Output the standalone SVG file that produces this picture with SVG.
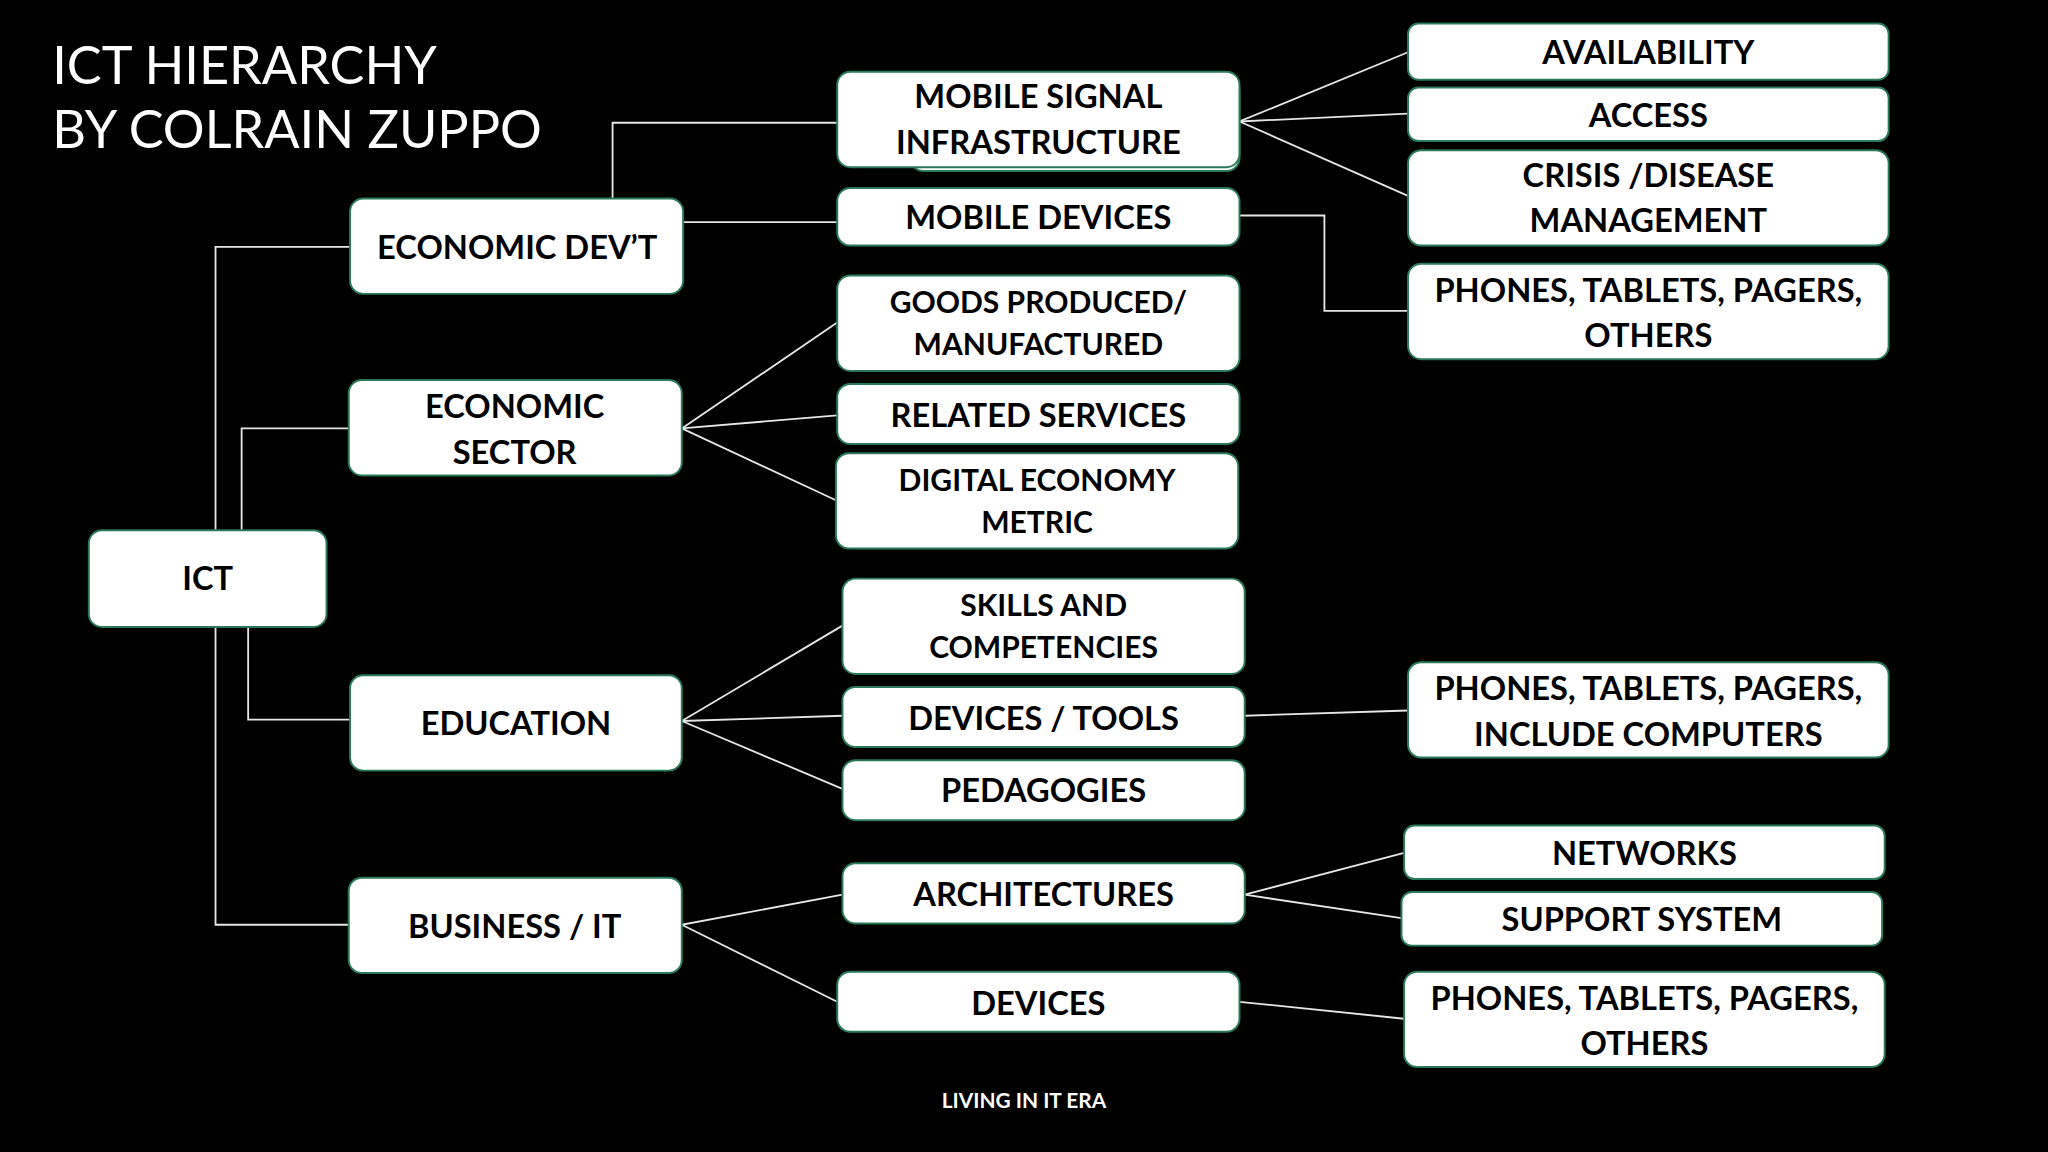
<svg xmlns="http://www.w3.org/2000/svg" width="2048" height="1152" viewBox="0 0 2048 1152">
<style>
.b{fill:#fff;stroke:#2a7a5a;stroke-width:1.5}
.t{font-family:Lato,"Open Sans",sans-serif;font-weight:bold;font-size:25px;fill:#000;text-anchor:middle}
.s{font-size:23px}
.c{stroke:#e6e6e6;stroke-width:1.4;fill:none}
</style>
<rect width="2048" height="1152" fill="#000"/>
<g transform="scale(1.30612)">
<text x="40" y="64" font-family="Lato,'Open Sans',sans-serif" font-size="40" fill="#fff">ICT HIERARCHY</text>
<text x="40" y="113" font-family="Lato,'Open Sans',sans-serif" font-size="40" fill="#fff">BY COLRAIN ZUPPO</text>
<g id="connectors">
<polyline class="c" points="268,189 165,189 165,708 267,708"/>
<polyline class="c" points="267,328 185,328 185,406"/>
<polyline class="c" points="190,480 190,551 268,551"/>
<polyline class="c" points="469,152 469,94 641,94"/>
<line class="c" x1="523" y1="170" x2="641" y2="170"/>
<line class="c" x1="949" y1="93" x2="1078" y2="40"/>
<line class="c" x1="949" y1="93" x2="1078" y2="87"/>
<line class="c" x1="949" y1="93" x2="1078" y2="150"/>
<polyline class="c" points="949,165 1014,165 1014,238 1078,238"/>
<line class="c" x1="522" y1="328" x2="641" y2="247"/>
<line class="c" x1="522" y1="328" x2="641" y2="318"/>
<line class="c" x1="522" y1="328" x2="640" y2="383"/>
<line class="c" x1="522" y1="552" x2="645" y2="479"/>
<line class="c" x1="522" y1="552" x2="645" y2="548"/>
<line class="c" x1="522" y1="552" x2="645" y2="604"/>
<line class="c" x1="953" y1="548" x2="1078" y2="544"/>
<line class="c" x1="522" y1="708" x2="645" y2="685"/>
<line class="c" x1="522" y1="708" x2="641" y2="767"/>
<line class="c" x1="953" y1="685" x2="1075" y2="653"/>
<line class="c" x1="953" y1="685" x2="1073" y2="703"/>
<line class="c" x1="949" y1="767" x2="1075" y2="780"/>
</g>
<g id="ict"><rect class="b" x="68" y="406" width="182" height="74" rx="10"/><text class="t" x="159" y="452">ICT</text></g>
<g id="econdev"><rect class="b" x="268" y="152" width="255" height="73" rx="10"/><text class="t" x="396" y="198">ECONOMIC DEV’T</text></g>
<g id="econsector"><rect class="b" x="267" y="291" width="255" height="73" rx="10"/><text class="t" x="394" y="320">ECONOMIC</text><text class="t" x="394" y="355">SECTOR</text></g>
<g id="education"><rect class="b" x="268" y="517" width="254" height="73" rx="10"/><text class="t" x="395" y="563">EDUCATION</text></g>
<g id="business"><rect class="b" x="267" y="672" width="255" height="73" rx="10"/><text class="t" x="394" y="718">BUSINESS / IT</text></g>
<g id="mobilesignal"><rect class="b" x="697" y="60" width="252" height="71" rx="10"/><rect class="b" x="641" y="55" width="308" height="73" rx="10"/><text class="t" x="795" y="83">MOBILE SIGNAL</text><text class="t" x="795" y="118">INFRASTRUCTURE</text></g>
<g id="mobiledevices"><rect class="b" x="641" y="144" width="308" height="44" rx="10"/><text class="t" x="795" y="175">MOBILE DEVICES</text></g>
<g id="goods"><rect class="b" x="641" y="211" width="308" height="73" rx="10"/><text class="t s" x="795" y="240">GOODS PRODUCED/</text><text class="t s" x="795" y="272">MANUFACTURED</text></g>
<g id="related"><rect class="b" x="641" y="294" width="308" height="46" rx="10"/><text class="t" x="795" y="327">RELATED SERVICES</text></g>
<g id="digital"><rect class="b" x="640" y="347" width="308" height="73" rx="10"/><text class="t s" x="794" y="376">DIGITAL ECONOMY</text><text class="t s" x="794" y="408">METRIC</text></g>
<g id="skills"><rect class="b" x="645" y="443" width="308" height="73" rx="10"/><text class="t s" x="799" y="472">SKILLS AND</text><text class="t s" x="799" y="504">COMPETENCIES</text></g>
<g id="devicestools"><rect class="b" x="645" y="526" width="308" height="46" rx="10"/><text class="t" x="799" y="559">DEVICES / TOOLS</text></g>
<g id="pedagogies"><rect class="b" x="645" y="582" width="308" height="46" rx="10"/><text class="t" x="799" y="614">PEDAGOGIES</text></g>
<g id="architectures"><rect class="b" x="645" y="661" width="308" height="46" rx="10"/><text class="t" x="799" y="694">ARCHITECTURES</text></g>
<g id="devices"><rect class="b" x="641" y="744" width="308" height="46" rx="10"/><text class="t" x="795" y="777">DEVICES</text></g>
<g id="availability"><rect class="b" x="1078" y="18" width="368" height="43" rx="8"/><text class="t" x="1262" y="49">AVAILABILITY</text></g>
<g id="access"><rect class="b" x="1078" y="67" width="368" height="41" rx="8"/><text class="t" x="1262" y="97">ACCESS</text></g>
<g id="crisis"><rect class="b" x="1078" y="115" width="368" height="73" rx="10"/><text class="t" x="1262" y="143">CRISIS /DISEASE</text><text class="t" x="1262" y="178">MANAGEMENT</text></g>
<g id="phones1"><rect class="b" x="1078" y="202" width="368" height="73" rx="10"/><text class="t" x="1262" y="231">PHONES, TABLETS, PAGERS,</text><text class="t" x="1262" y="266">OTHERS</text></g>
<g id="phones2"><rect class="b" x="1078" y="507" width="368" height="73" rx="10"/><text class="t" x="1262" y="536">PHONES, TABLETS, PAGERS,</text><text class="t" x="1262" y="571">INCLUDE COMPUTERS</text></g>
<g id="networks"><rect class="b" x="1075" y="632" width="368" height="41" rx="8"/><text class="t" x="1259" y="662">NETWORKS</text></g>
<g id="support"><rect class="b" x="1073" y="683" width="368" height="41" rx="8"/><text class="t" x="1257" y="713">SUPPORT SYSTEM</text></g>
<g id="phones3"><rect class="b" x="1075" y="744" width="368" height="73" rx="10"/><text class="t" x="1259" y="773">PHONES, TABLETS, PAGERS,</text><text class="t" x="1259" y="808">OTHERS</text></g>
<text x="784" y="848" font-family="Lato,'Open Sans',sans-serif" font-weight="bold" font-size="16" fill="#fff" text-anchor="middle">LIVING IN IT ERA</text>
</g>
</svg>
